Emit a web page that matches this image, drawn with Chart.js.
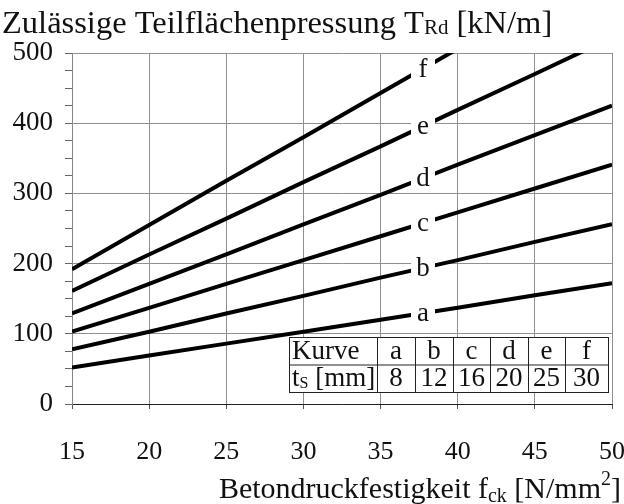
<!DOCTYPE html>
<html>
<head>
<meta charset="utf-8">
<script src="https://cdn.jsdelivr.net/npm/chart.js@4/dist/chart.umd.min.js"></script>
<style>
  html, body { margin: 0; padding: 0; background: #fff; }
  #wrap { width: 624px; height: 504px; }
</style>
</head>
<body>
<div id="wrap"><canvas id="chart" width="624" height="504"></canvas></div>
<script>
// ---- data ----
const fck = [15, 20, 25, 30, 35, 40, 45, 50];
const curveA = [52, 69, 86, 103, 120, 137, 155, 172];
const curveB = [78, 103, 129, 154, 180, 205, 231, 256];
const curveC = [103, 137, 171, 205, 239, 273, 307, 341];
const curveD = [129, 171, 213, 256, 298, 341, 383, 425];
const curveE = [161, 213, 264, 316, 367, 419, 470, 522];
const curveF = [192, 255, 318, 380, 443, 506, 569, 632];
const curveNames = ['a', 'b', 'c', 'd', 'e', 'f'];
const thickness = ['8', '12', '16', '20', '25', '30'];
const labelAtFck = 37.75;

const SERIF = '"Liberation Serif", "DejaVu Serif", serif';
const series = [curveA, curveB, curveC, curveD, curveE, curveF];

// draws text made of parts, parts: {t, size, dy}
function richText(ctx, parts, x, y, align) {
    let total = 0;
    parts.forEach(p => { ctx.font = p.size + 'px ' + SERIF; p.w = ctx.measureText(p.t).width; total += p.w; });
    let cx = align === 'right' ? x - total : align === 'center' ? x - total / 2 : x;
    ctx.textAlign = 'left';
    parts.forEach(p => {
        ctx.font = p.size + 'px ' + SERIF;
        ctx.fillText(p.t, cx, y + (p.dy || 0));
        cx += p.w;
    });
}

function valueAt(data, x) {
    for (let i = 0; i < fck.length - 1; i++) {
        if (x >= fck[i] && x <= fck[i + 1]) {
            const r = (x - fck[i]) / (fck[i + 1] - fck[i]);
            return data[i] + r * (data[i + 1] - data[i]);
        }
    }
    return data[data.length - 1];
}

const decorations = {
    id: 'decorations',
    afterDatasetsDraw(chart) {
        const ctx = chart.ctx;
        const xs = chart.scales.x, ys = chart.scales.y;
        ctx.save();
        ctx.fillStyle = '#111';
        ctx.textBaseline = 'middle';

        // curve letters, with a white gap in the line
        const px = xs.getPixelForValue(labelAtFck);
        series.forEach((d, i) => {
            const py = ys.getPixelForValue(valueAt(d, labelAtFck));
            ctx.fillStyle = '#fff';
            ctx.fillRect(px - 12, py - 14, 24, 28);
            ctx.fillStyle = '#111';
            ctx.font = '27px ' + SERIF;
            ctx.textAlign = 'center';
            ctx.fillText(curveNames[i], px, py + 1);
        });

        // inset table
        const tx = 289, ty = 337, rowH = 27.5;
        const colX = [289, 377, 415, 453, 490, 528, 565, 608];
        ctx.fillStyle = '#fff';
        ctx.fillRect(tx, ty, colX[colX.length - 1] - tx, rowH * 2);
        ctx.strokeStyle = '#222';
        ctx.lineWidth = 1;
        ctx.beginPath();
        colX.forEach(cx => { ctx.moveTo(cx + 0.5, ty); ctx.lineTo(cx + 0.5, ty + rowH * 2); });
        [0, 1, 2].forEach(r => { ctx.moveTo(tx, ty + r * rowH + 0.5); ctx.lineTo(colX[colX.length - 1] + 1, ty + r * rowH + 0.5); });
        ctx.stroke();
        ctx.fillStyle = '#111';
        ctx.textBaseline = 'middle';
        const r1 = ty + rowH * 0.5 + 1, r2 = ty + rowH * 1.5 + 1;
        richText(ctx, [{ t: 'Kurve', size: 27 }], colX[0] + 3, r1, 'left');
        richText(ctx, [{ t: 't', size: 27 }, { t: 'S', size: 16, dy: 5 }, { t: ' [mm]', size: 27 }], colX[0] + 3, r2, 'left');
        curveNames.forEach((n, i) => {
            const c = (colX[i + 1] + colX[i + 2]) / 2;
            richText(ctx, [{ t: n, size: 27 }], c, r1, 'center');
            richText(ctx, [{ t: thickness[i], size: 27 }], c, r2, 'center');
        });

        // title and x axis title
        ctx.textBaseline = 'alphabetic';
        richText(ctx, [
            { t: 'Zulässige Teilflächenpressung T', size: 32.5 },
            { t: 'Rd', size: 21, dy: 1 },
            { t: ' [kN/m]', size: 32.5 }
        ], 2, 33, 'left');
        richText(ctx, [
            { t: 'Betondruckfestigkeit f', size: 30 },
            { t: 'ck', size: 20, dy: 4 },
            { t: ' [N/mm', size: 30 },
            { t: '2', size: 20, dy: -13 },
            { t: ']', size: 30 }
        ], 621, 498, 'right');
        ctx.restore();
    }
};

new Chart(document.getElementById('chart'), {
    type: 'line',
    data: {
        labels: fck,
        datasets: series.map((d, i) => ({
            label: curveNames[i],
            data: d.map((v, j) => ({ x: fck[j], y: v })),
            borderColor: '#000',
            borderWidth: 4,
            pointRadius: 0,
            tension: 0
        }))
    },
    options: {
        responsive: false,
        animation: false,
        devicePixelRatio: 1,
        layout: { padding: { top: 53, right: 12, left: 0, bottom: 0 } },
        plugins: { legend: { display: false }, tooltip: { enabled: false } },
        scales: {
            x: {
                type: 'linear',
                min: 15,
                max: 50,
                afterFit: s => { s.height = 100; s.paddingLeft = 0; s.paddingRight = 0; },
                ticks: { stepSize: 5, color: '#111', font: { family: SERIF, size: 26 }, padding: 28, maxRotation: 0 },
                grid: { color: '#8f8f8f', lineWidth: 1, tickLength: 5, tickColor: '#555' },
                border: { color: '#222', width: 1 }
            },
            y: {
                min: 0,
                max: 500,
                afterFit: s => { s.width = 72; s.paddingTop = 0; s.paddingBottom = 0; },
                ticks: {
                    stepSize: 25,
                    autoSkip: false,
                    color: '#111',
                    font: { family: SERIF, size: 27 },
                    padding: 12,
                    callback: v => (v % 100 === 0 ? v : '')
                },
                grid: {
                    color: c => (c.tick && c.tick.value % 100 === 0 ? '#8f8f8f' : 'rgba(0,0,0,0)'),
                    lineWidth: 1,
                    tickLength: 7,
                    tickColor: '#666'
                },
                border: { color: '#888', width: 1 }
            }
        }
    },
    plugins: [decorations]
});
</script>
</body>
</html>
